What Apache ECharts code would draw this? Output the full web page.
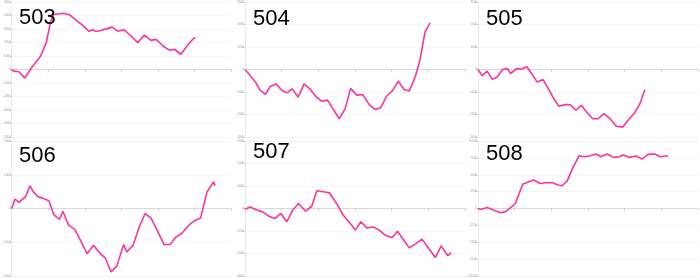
<!DOCTYPE html>
<html><head><meta charset="utf-8">
<script src="https://cdn.jsdelivr.net/npm/echarts@6/dist/echarts.min.js"></script>
<style>html,body{margin:0;padding:0;background:#fff}#c{width:700px;height:278px}</style>
</head><body><div id="c"></div>
<script>
var panelNames = ['503','504','505','506','507','508'];

var x503 = [0,0.6,2.0,3.6,5.6,7.9,9.5,10.6,11.5,14.3,15.9,17.9,19.3,21.1,22.3,22.9,24.3,25.9,27.5,29.0,30.8,32.5,34.5,36.3,38.1,39.5,41.5,43.2,44.5,46.3,48.1,49.9,50.3];
var y503 = [0,-120,-170,-640,200,980,2030,3500,4070,4170,4040,3580,3310,2840,2940,2820,2890,3010,3140,2840,2940,2520,1990,2550,2160,2230,1720,1420,1500,1130,1790,2330,2330];

var x504 = [0,1.4,2.7,4.1,5.6,6.8,8.5,10.0,11.4,12.9,14.5,16.1,17.7,19.4,20.9,22.5,24.1,25.7,27.3,28.8,30.5,32.1,33.9,35.5,37.0,38.6,40.3,41.8,43.4,44.8,46.4,47.7,49.1,50.5];
var y504 = [0,-270,-520,-920,-1110,-770,-640,-920,-1040,-860,-1230,-640,-860,-1220,-1410,-1360,-1780,-2190,-1750,-840,-1140,-1110,-1560,-1780,-1700,-1190,-930,-520,-890,-960,-340,400,1670,2070];

var x505 = [0,1.1,2.5,3.9,5.2,6.7,8.0,8.9,10.5,11.7,13.3,14.8,16.1,17.7,19.2,20.7,22.0,23.7,25.2,26.7,28.2,29.8,31.3,32.8,34.3,36.0,37.7,39.5,41.1,42.7,44.2,45.5];
var y505 = [0,-270,-70,-440,-330,0,40,-180,40,15,120,-220,-560,-440,-860,-1300,-1630,-1560,-1570,-1810,-1590,-1930,-2190,-2190,-1960,-2180,-2520,-2560,-2220,-1930,-1510,-890];

var x506 = [0,0.9,2.0,3.8,5.0,5.9,7.2,8.6,10.2,11.5,13.1,14.0,15.6,17.2,18.8,20.6,22.4,24.1,25.6,27.2,28.8,30.6,31.5,33.2,35.0,36.5,38.1,39.9,41.7,43.4,45.0,46.5,48.6,50.2,51.7,53.4,55.2,55.6];
var y506 = [0,280,180,350,670,500,350,300,230,-180,-320,-80,-500,-610,-940,-1340,-1090,-1320,-1460,-1880,-1700,-1070,-1290,-1090,-520,-150,-280,-670,-1070,-1060,-840,-740,-480,-350,-280,480,790,670];

var x507 = [0,1.4,3.2,4.8,6.5,8.2,9.8,11.4,13.0,14.6,16.5,18.2,19.6,23.0,25.0,26.8,28.5,30.1,31.6,33.2,35.0,36.6,38.3,40.1,41.6,43.2,44.8,46.6,48.3,50.1,51.9,53.5,55.3,56.2];
var y507 = [-30,70,-70,-150,-340,-440,-220,-590,-70,220,-120,100,790,700,220,-300,-620,-960,-590,-860,-820,-960,-1190,-1300,-1010,-1380,-1750,-1560,-1360,-1780,-2180,-1660,-2100,-1960];

var x508 = [0,0.9,2.5,4.3,6.1,7.5,8.8,10.2,12.2,13.4,15.2,17.0,18.4,20.4,21.8,22.9,24.3,25.8,27.6,29.1,30.4,32.2,33.6,35.2,37.0,38.5,39.7,41.3,43.1,44.7,46.4,48.2,49.7,51.8];
var y508 = [0,-100,150,-250,-590,-500,100,740,3610,3860,4210,3710,3810,3810,3470,3370,4060,5940,7820,7670,7770,8070,7670,8070,7570,7670,7920,7570,7770,7330,8020,8070,7670,7820];

var yRanges = [[-5000,5000,1000],[-3000,3000,1000],[-3000,3000,1000],[-2000,2000,1000],[-3000,3000,1000],[-10000,10000,2500]];
var xRange = [0,60,10];

var xs = [x503,x504,x505,x506,x507,x508];
var ys = [y503,y504,y505,y506,y507,y508];

var lefts = [11,245,478];
var grids=[],xAxes=[],yAxes=[],series=[],titles=[];
for (var i=0;i<6;i++){
  var col=i%3,row=Math.floor(i/3);
  grids.push({left:lefts[col],top:row*139+2,width:220,height:135});
  xAxes.push({type:'value',gridIndex:i,min:xRange[0],max:xRange[1],interval:xRange[2],
    axisLine:{onZero:true,lineStyle:{color:'#d9d9d9',width:1}},
    axisTick:{show:true,length:2,lineStyle:{color:'#c8c8c8'}},
    axisLabel:{show:false},splitLine:{show:false}});
  yAxes.push({type:'value',gridIndex:i,min:yRanges[i][0],max:yRanges[i][1],interval:yRanges[i][2],
    axisLine:{show:true,lineStyle:{color:'#ececec'}},
    axisTick:{show:true,length:2,lineStyle:{color:'#d0d0d0'}},
    axisLabel:{show:true,fontSize:3,color:'#a0a0a0',margin:1,formatter:function(v){return String(v);}},
    splitLine:{show:true,lineStyle:{color:'#f5f5f5'}}});
  var d=[];
  for (var k=0;k<xs[i].length;k++) d.push([xs[i][k],ys[i][k]]);
  series.push({type:'line',xAxisIndex:i,yAxisIndex:i,data:d,showSymbol:false,
    lineStyle:{color:'#ff3399',width:1.6},itemStyle:{color:'#ff3399'},animation:false});
  titles.push({text:panelNames[i],left:lefts[col]+3,top:row*139+[2,3,3,1,-3,-1][i],
    textStyle:{fontFamily:'Liberation Sans',fontSize:22,fontWeight:'normal',color:'#000'}});
}
var chart=echarts.init(document.getElementById('c'),null,{renderer:'canvas'});
chart.setOption({animation:false,title:titles,grid:grids,xAxis:xAxes,yAxis:yAxes,series:series});
</script></body></html>
